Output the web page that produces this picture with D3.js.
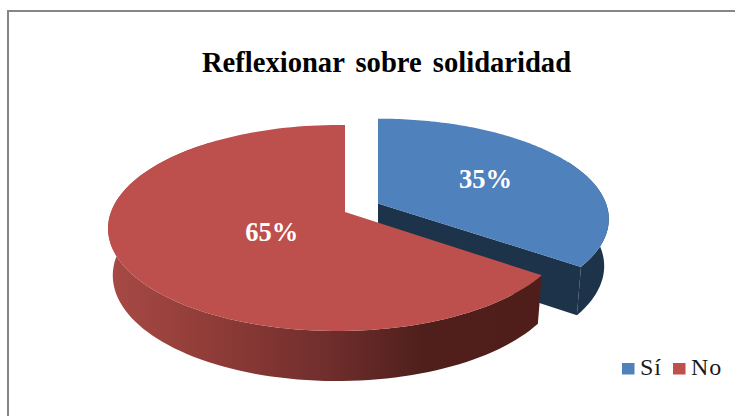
<!DOCTYPE html>
<html>
<head>
<meta charset="utf-8">
<script src="https://cdn.jsdelivr.net/npm/d3@7"></script>
<style>
	html, body { margin: 0; padding: 0; background: #fff; }
	svg { display: block; }
	text { font-family: "Liberation Serif", serif; }
</style>
</head>
<body>
<div id="chart"></div>
<script>
var categories = ["Sí", "No"];
var values = [35, 65];
var labels = ["35%", "65%"];
var titleText = "Reflexionar sobre solidaridad";

var width = 735, height = 416;
var topColors = ["#4f81bd", "#bd4f4c"];
var wallBlue = "#1d3349";

// apex of the red slice, and the tilt of the disc
var cx = 345, cy = 212;
var rx = [228, 227], ry = [98, 100.5], tiltY = 0.155;
var tiltX = [0, 0.03];
var shiftX = [33, 0], shiftY = [-8.5, 0];
var depth = 46.5;

var svg = d3.select("#chart").append("svg").attr("width", width).attr("height", height);

var defs = svg.append("defs");
var redWall = defs.append("linearGradient").attr("id", "redWall")
	.attr("gradientUnits", "userSpaceOnUse")
	.attr("x1", 108).attr("x2", 545).attr("y1", 0).attr("y2", 0);
[[0, "#a84a45"], [0.25, "#8e3b37"], [0.5, "#702e2c"], [0.72, "#4f1f1c"], [1, "#4f1e1b"]].forEach(function(s) {
	redWall.append("stop").attr("offset", s[0]).attr("stop-color", s[1]);
});

// chart border, runs off the picture on the right and at the bottom
svg.append("path")
	.attr("d", "M8,416V11H735")
	.attr("fill", "none").attr("stroke", "#868686").attr("stroke-width", 2);

// disc coordinates -> screen
function project(X, Y, i) {
	var w = 1 + tiltX[i] * X - tiltY * Y;
	return [cx + shiftX[i] + rx[i] * X / w, cy + shiftY[i] + ry[i] * Y / w];
}

function lower(p, i) {
	var ax = cx + shiftX[i], ay = cy + shiftY[i];
	return [ax + (p[0] - ax) * 0.98, p[1] + depth + 0.03 * (p[1] - ay)];
}

var pie = d3.pie().sort(null).value(function(d) { return d; });
var arcs = pie(values);

function rim(d, i) {
	var pts = d3.range(0, 121).map(function(k) {
		var a = d.startAngle + (d.endAngle - d.startAngle) * k / 120;
		return project(Math.sin(a), -Math.cos(a), i);
	});
	return { apex: project(0, 0, i), pts: pts };
}

var line = d3.line().curve(d3.curveLinear);

arcs.forEach(function(d, i) {
	var r = rim(d, i);
	var wallFill = i == 0 ? wallBlue : "url(#redWall)";
	// only the front part of the rim has a wall that shows
	var front = i == 0 ? r.pts.slice(60) : r.pts.slice(0, 100);
	svg.append("path").attr("fill", wallFill)
		.attr("d", line(front.concat(front.map(function(p) { return lower(p, i); }).reverse())) + "Z");
	// inner wall along the end edge
	if (i == 0) {
		var end = r.pts[r.pts.length - 1];
		svg.append("path").attr("fill", wallFill)
			.attr("d", line([r.apex, end, lower(end, i), lower(r.apex, i)]) + "Z");
	}
	// top face
	svg.append("path").attr("fill", topColors[i])
		.attr("d", line([r.apex].concat(r.pts)) + "Z");
});

// labels sit on the mid angle of each slice
var labelRadius = [0.55, 0.35];
var labelNudge = [0, 4];
arcs.forEach(function(d, i) {
	var mid = (d.startAngle + d.endAngle) / 2;
	var p = project(labelRadius[i] * Math.sin(mid), -labelRadius[i] * Math.cos(mid), i);
	svg.append("text")
		.attr("x", p[0]).attr("y", p[1] + labelNudge[i] + 8)
		.attr("text-anchor", "middle")
		.attr("font-size", 26.5).attr("font-weight", "bold").attr("fill", "#fff")
		.text(labels[i]);
});

svg.append("text")
	.attr("x", 386.5).attr("y", 72)
	.attr("text-anchor", "middle")
	.attr("font-size", 28.6).attr("font-weight", "bold").attr("fill", "#000")
	.attr("word-spacing", 4)
	.text(titleText);

// legend
var legendX = [622, 673];
var legendColors = ["#4f81bd", "#c0504d"];
categories.forEach(function(c, i) {
	svg.append("rect")
		.attr("x", legendX[i]).attr("y", 363)
		.attr("width", 12.5).attr("height", 11.5)
		.attr("fill", legendColors[i]);
	svg.append("text")
		.attr("x", legendX[i] + 18).attr("y", 375)
		.attr("font-size", 24).attr("fill", "#1a1a1a")
		.attr("letter-spacing", 1)
		.text(c);
});
</script>
</body>
</html>
